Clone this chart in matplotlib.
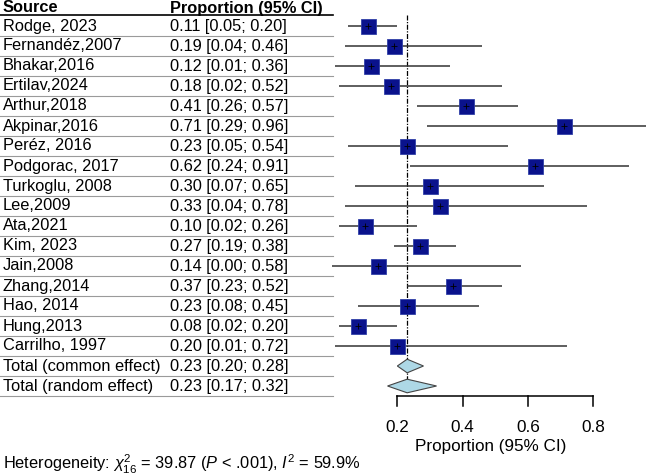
import matplotlib
matplotlib.use('Agg')
import matplotlib.pyplot as plt
import matplotlib.transforms as mtrans
import numpy as np

plt.rcParams['font.family'] = ['Liberation Sans', 'DejaVu Sans']
plt.rcParams['mathtext.fontset'] = 'custom'
plt.rcParams['mathtext.rm'] = 'Liberation Sans'
plt.rcParams['mathtext.it'] = 'Liberation Sans:italic'

# study data
studies = ['Rodge, 2023', 'Fernandéz,2007', 'Bhakar,2016', 'Ertilav,2024', 'Arthur,2018',
           'Akpinar,2016', 'Peréz, 2016', 'Podgorac, 2017', 'Turkoglu, 2008', 'Lee,2009',
           'Ata,2021', 'Kim, 2023', 'Jain,2008', 'Zhang,2014', 'Hao, 2014', 'Hung,2013',
           'Carrilho, 1997']
est = [0.11, 0.19, 0.12, 0.18, 0.41, 0.71, 0.23, 0.62, 0.30, 0.33, 0.10, 0.27, 0.14, 0.37, 0.23, 0.08, 0.20]
lo = [0.05, 0.04, 0.01, 0.02, 0.26, 0.29, 0.05, 0.24, 0.07, 0.04, 0.02, 0.19, 0.00, 0.23, 0.08, 0.02, 0.01]
hi = [0.20, 0.46, 0.36, 0.52, 0.57, 0.96, 0.54, 0.91, 0.65, 0.78, 0.26, 0.38, 0.58, 0.52, 0.45, 0.20, 0.72]

pooled = ['Total (common effect)', 'Total (random effect)']
pooled_est = [0.23, 0.23]
pooled_lo = [0.20, 0.17]
pooled_hi = [0.28, 0.32]

ticks = [0.2, 0.4, 0.6, 0.8]
het_text = r'Heterogeneity: $\chi^2_{16}$ = 39.87 ($P$ < .001), $I^2$ = 59.9%'

fig = plt.figure(figsize=(6.48, 4.76), dpi=100)
ax = fig.add_axes([0, 0, 1, 1])
ax.set_xlim(-1.0162, 0.9672)
ax.set_ylim(22.5, -1.3)
ax.axis('off')

fs = 11.8
tr = mtrans.blended_transform_factory(fig.transFigure, ax.transData)
col1, col2 = 0.004, 0.262

# header
ax.text(col1, -0.9, 'Source', transform=tr, fontsize=fs, fontweight='bold', va='center')
ax.text(col2, -0.9, 'Proportion (95% CI)', transform=tr, fontsize=fs, fontweight='bold', va='center')
ax.plot([-1.0162, 0.003], [-0.55, -0.55], color='black', lw=1.2)

n = len(studies)
rows = np.arange(n)
for i in range(n):
    ax.text(col1, i, studies[i], transform=tr, fontsize=fs, va='center')
    ax.text(col2, i, '%.2f [%.2f; %.2f]' % (est[i], lo[i], hi[i]), transform=tr, fontsize=fs, va='center')
for j in range(len(pooled)):
    ax.text(col1, n + j, pooled[j], transform=tr, fontsize=fs, va='center')
    ax.text(col2, n + j, '%.2f [%.2f; %.2f]' % (pooled_est[j], pooled_lo[j], pooled_hi[j]),
            transform=tr, fontsize=fs, va='center')

# row separators
for k in range(n + len(pooled)):
    ax.plot([-1.0162, 0.003], [k + 0.5, k + 0.5], color='#9a9a9a', lw=0.8)

# reference line
ax.plot([pooled_est[1], pooled_est[1]], [-0.55, n + 1], color='black', lw=0.9,
        linestyle=(0, (4, 1.2, 1, 1.2)), zorder=1)

# CIs and squares
ax.hlines(rows, lo, hi, color='#333333', lw=1.1, zorder=2)
ax.plot(est, rows, 's', ms=10.8, color='#0a128c', mec='#3040a8', mew=0.6, zorder=3)
ax.plot(est, rows, '+', ms=4.5, color='black', mew=0.6, zorder=4)

# diamonds
for j in range(len(pooled)):
    y = n + j
    h = 0.34
    ax.fill([pooled_lo[j], pooled_est[j], pooled_hi[j], pooled_est[j]],
            [y, y - h, y, y + h], facecolor='#add8e6', edgecolor='#444444', lw=0.8, zorder=3)

# x axis
ya = n + 1.5
ax.plot([ticks[0], ticks[-1]], [ya, ya], color='black', lw=1.1)
for t in ticks:
    ax.plot([t, t], [ya, ya + 0.5], color='black', lw=1.1)
    ax.text(t, 20.1, '%.1f' % t, ha='center', va='center', fontsize=12.3)
ax.text(0.485, 21.0, 'Proportion (95% CI)', ha='center', va='center', fontsize=12.3)

ax.text(col1, 21.9, het_text, transform=tr, fontsize=fs, va='center')

fig.savefig('out.png', dpi=100)
